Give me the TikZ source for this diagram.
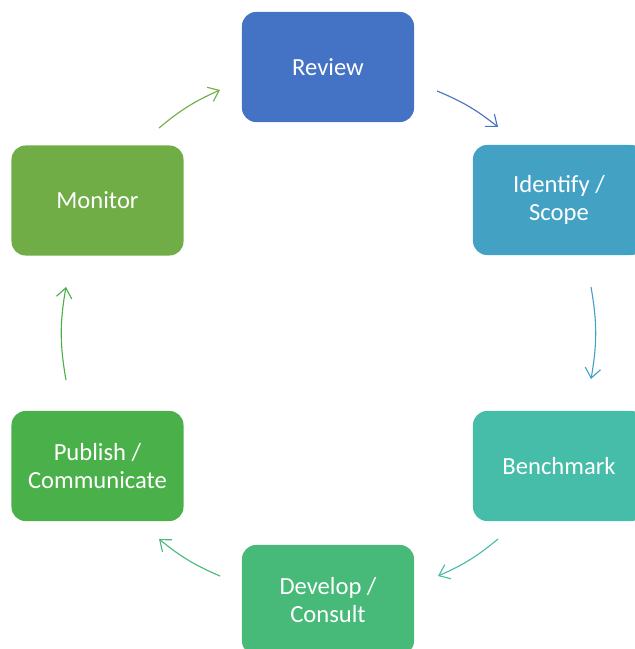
\documentclass[tikz,border=0pt]{standalone}
\usepackage{fontspec}
\setmainfont{Carlito}
\usetikzlibrary{arrows.meta}

\definecolor{reviewcol}{HTML}{4472C4}
\definecolor{identcol}{HTML}{43A2C3}
\definecolor{benchcol}{HTML}{46BDA9}
\definecolor{developcol}{HTML}{47B978}
\definecolor{publishcol}{HTML}{4AB14A}
\definecolor{monitorcol}{HTML}{70AD47}

\begin{document}
\begin{tikzpicture}[x=0.025cm,y=-0.025cm]
        \tikzstyle{every node} = [rectangle, rounded corners=10pt, minimum width=4.3cm, minimum height=2.75cm,
                text=white, align=center, font=\fontsize{17.5}{20}\selectfont]
        \tikzstyle{cyc} = [-{Straight Barb[length=7pt,width=11pt]}, line width=0.8pt, bend left=8]
        \useasboundingbox (0,0) rectangle (635,649);
        \clip (0,0) rectangle (635,649);

        \node[fill=reviewcol] (rev) at (328,67) {Review};
        \node[fill=identcol] (ide) at (559,200) {Identify /\\Scope};
        \node[fill=benchcol] (ben) at (559,466) {Benchmark};
        \node[fill=developcol] (dev) at (328,600) {Develop /\\Consult};
        \node[fill=publishcol] (pub) at (97.5,466) {Publish /\\Communicate};
        \node[fill=monitorcol] (mon) at (97.5,200.5) {Monitor};

        % arrow ends
        \coordinate (s1) at (437,91);  \coordinate (e1) at (498,127);
        \coordinate (s2) at (591,287); \coordinate (e2) at (591,379);
        \coordinate (s3) at (498,539); \coordinate (e3) at (438,576);
        \coordinate (s4) at (220,576); \coordinate (e4) at (159,539);
        \coordinate (s5) at (66,380);  \coordinate (e5) at (66,287);
        \coordinate (s6) at (159,128); \coordinate (e6) at (220,90);

        \foreach \i/\col/\b in {1/reviewcol/8, 2/identcol/10, 3/benchcol/8, 4/developcol/8, 5/publishcol/10, 6/monitorcol/8}
            \draw[cyc, \col, bend left=\b] (s\i) to (e\i);
      \end{tikzpicture}
\end{document}
